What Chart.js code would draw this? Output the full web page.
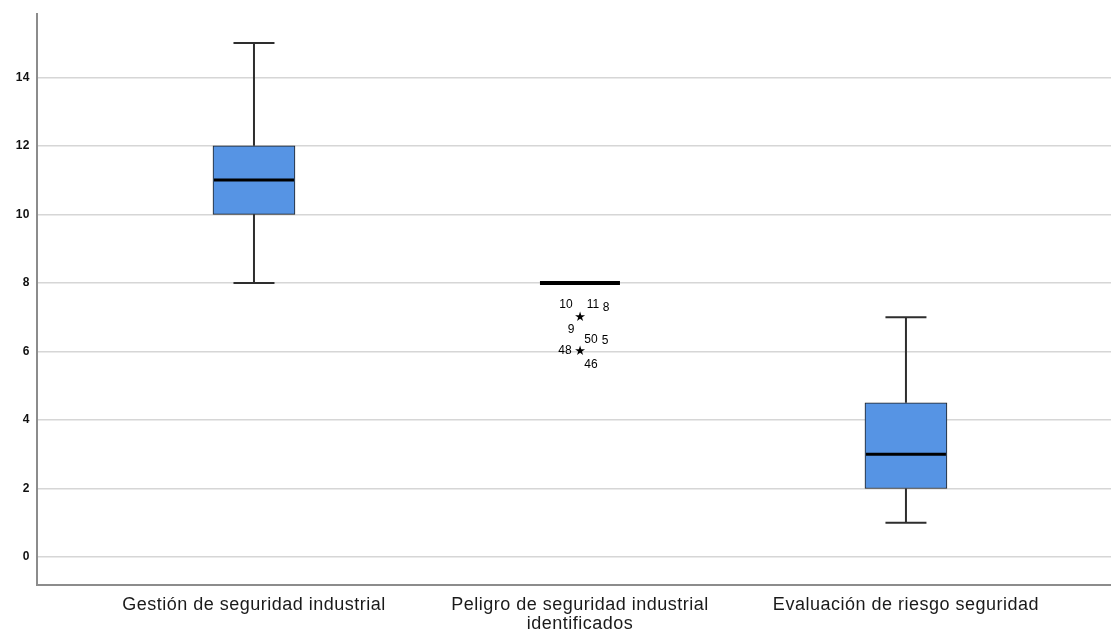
<!DOCTYPE html>
<html>
<head>
<meta charset="utf-8">
<script src="https://cdn.jsdelivr.net/npm/chart.js@4/dist/chart.umd.min.js"></script>
<style>
  html, body { margin: 0; padding: 0; background: #fff; }
  #wrap { width: 1111px; height: 635px; }
</style>
</head>
<body>
<div id="wrap"><canvas id="c" width="1111" height="635"></canvas></div>
<script>
// Variables shown on the category axis
const categories = [
  'Gestión de seguridad industrial',
  ['Peligro de seguridad industrial', 'identificados'],
  'Evaluación de riesgo seguridad'
];

// Five-number summaries per variable
const whiskerLow  = [8, 8, 1];
const q1          = [10, 8, 2];
const median      = [11, 8, 3];
const q3          = [12, 8, 4.5];
const whiskerHigh = [15, 8, 7];

// Extreme values (stars) with their case numbers
const extremeCategory = [1, 1];
const extremeValue    = [7, 6];
const extremeCases    = [['10', '11', '8', '9'], ['50', '5', '48', '46']];

// Y axis tick labels
const yTicks = [0, 2, 4, 6, 8, 10, 12, 14];

// Where each case number sits around its star (pixels)
const caseLabelOffsets = [
  [[-14, -12], [13, -12], [26, -9], [-9, 13]],
  [[11, -12], [25, -11], [-15, -1], [11, 13]]
];

const boxFill = '#5694e4';
const ink = '#1e1e1e';

const boxplotPlugin = {
  id: 'boxplotParts',
  beforeDraw(chart) {
    // slightly open letter spacing for axis text
    chart.ctx.letterSpacing = '0.5px';
  },
  beforeDatasetsDraw(chart) {
    const { ctx, scales: { x, y } } = chart;
    ctx.save();
    ctx.strokeStyle = '#2e2e2e';
    ctx.lineWidth = 2;
    const capHalf = 20.5;
    for (let i = 0; i < categories.length; i++) {
      if (whiskerLow[i] === whiskerHigh[i]) continue;
      const cx = x.getPixelForValue(i);
      ctx.beginPath();
      ctx.moveTo(cx, y.getPixelForValue(q3[i]));
      ctx.lineTo(cx, y.getPixelForValue(whiskerHigh[i]));
      ctx.moveTo(cx, y.getPixelForValue(q1[i]));
      ctx.lineTo(cx, y.getPixelForValue(whiskerLow[i]));
      ctx.moveTo(cx - capHalf, y.getPixelForValue(whiskerHigh[i]));
      ctx.lineTo(cx + capHalf, y.getPixelForValue(whiskerHigh[i]));
      ctx.moveTo(cx - capHalf, y.getPixelForValue(whiskerLow[i]));
      ctx.lineTo(cx + capHalf, y.getPixelForValue(whiskerLow[i]));
      ctx.stroke();
    }
    ctx.restore();
  },
  afterDatasetsDraw(chart) {
    const { ctx, scales: { x, y } } = chart;
    ctx.save();
    ctx.letterSpacing = '0px';
    const half = 40;
    for (let i = 0; i < categories.length; i++) {
      const cx = x.getPixelForValue(i);
      const my = y.getPixelForValue(median[i]);
      const flat = q1[i] === q3[i];
      ctx.strokeStyle = '#000';
      ctx.lineWidth = flat ? 4 : 3;
      ctx.beginPath();
      ctx.moveTo(cx - half, my);
      ctx.lineTo(cx + half, my);
      ctx.stroke();
    }
    // extreme values
    ctx.fillStyle = '#000';
    ctx.textAlign = 'center';
    ctx.textBaseline = 'middle';
    for (let k = 0; k < extremeValue.length; k++) {
      const sx = x.getPixelForValue(extremeCategory[k]);
      const sy = y.getPixelForValue(extremeValue[k]);
      ctx.font = '13px "DejaVu Sans", sans-serif';
      ctx.fillText('★', sx, sy);
      ctx.font = '12px "Liberation Sans", Arial, sans-serif';
      extremeCases[k].forEach((label, j) => {
        const [dx, dy] = caseLabelOffsets[k][j];
        ctx.fillText(label, sx + dx, sy + dy);
      });
    }
    ctx.restore();
  }
};

new Chart(document.getElementById('c'), {
  type: 'bar',
  data: {
    datasets: [{
      data: categories.map((c, i) => ({ x: i, y: [q1[i], q3[i]] })),
      backgroundColor: boxFill,
      borderColor: ink,
      borderWidth: 1,
      borderSkipped: false,
      barThickness: 82
    }]
  },
  options: {
    responsive: false,
    animation: false,
    devicePixelRatio: 1,
    layout: { padding: { top: 13, right: 0, left: 0, bottom: 0 } },
    plugins: { legend: { display: false }, tooltip: { enabled: false } },
    scales: {
      x: {
        type: 'linear',
        offset: false,
        min: -0.6656,
        max: 2.629,
        afterBuildTicks: (s) => { s.ticks = categories.map((c, i) => ({ value: i })); },
        afterFit: (s) => { s.height = 50; },
        grid: { display: false, drawTicks: false },
        border: { display: true, color: '#8c8c8c', width: 2 },
        ticks: {
          autoSkip: false,
          maxRotation: 0,
          padding: 11,
          color: '#1a1a1a',
          font: { family: '"Liberation Sans", Arial, sans-serif', size: 18, lineHeight: 1.05 },
          callback: (v) => categories[v]
        }
      },
      y: {
        min: -0.815,
        max: 15.84,
        afterBuildTicks: (s) => { s.ticks = yTicks.map(v => ({ value: v })); },
        afterFit: (s) => { s.width = 37; },
        grid: { color: '#d6d6d6', lineWidth: 1.5, drawTicks: false },
        border: { display: true, color: '#8c8c8c', width: 2 },
        ticks: {
          padding: 7,
          color: '#111',
          font: { family: '"Liberation Sans", Arial, sans-serif', size: 12, weight: 'bold' }
        }
      }
    }
  },
  plugins: [boxplotPlugin]
});
</script>
</body>
</html>
